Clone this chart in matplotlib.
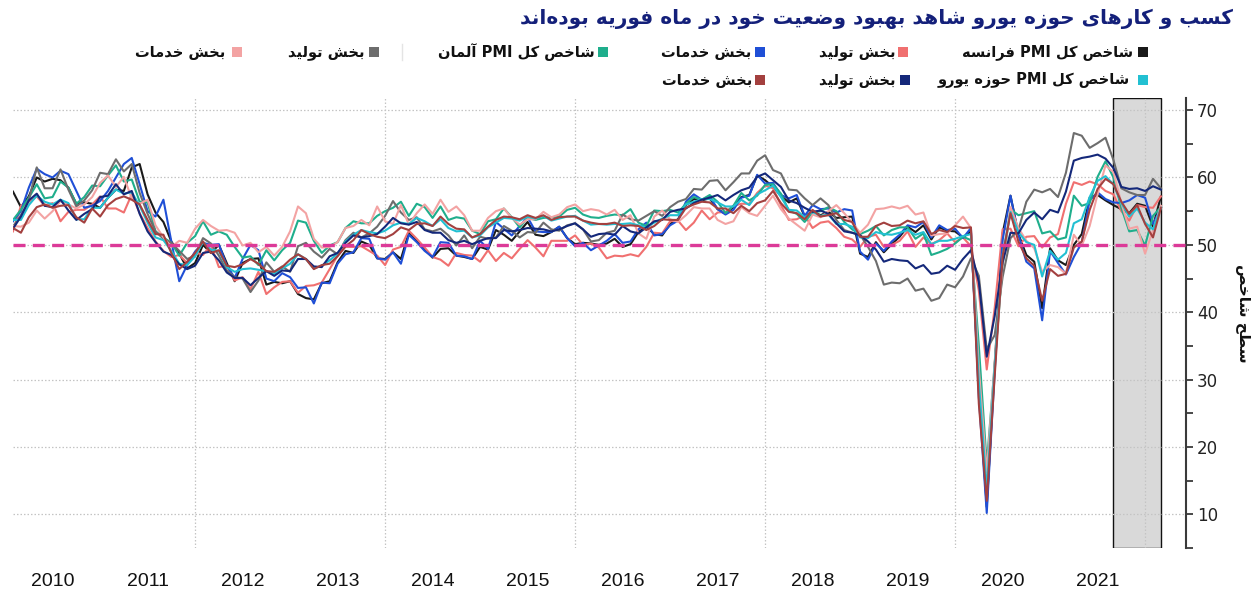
import re
import numpy as np
import matplotlib
matplotlib.use("Agg")
import matplotlib.pyplot as plt
from matplotlib.patches import Rectangle

# ---------------- data (monthly, Jan 2010 .. Feb 2022) ----------------
start_year = 2010
fr_comp = [57.9, 55.6, 57.2, 60.0, 59.4, 59.8, 59.6, 58.5, 56.1, 56.3, 56.1, 55.5,
           57.0, 58.2, 58.0, 61.5, 62.0, 57.5, 54.8, 53.4, 50.5, 48.7, 46.5, 47.3,
           50.0, 48.8, 50.0, 47.3, 44.6, 47.3, 47.9, 48.0, 44.1, 44.5, 44.3, 44.6,
           42.7, 42.1, 41.9, 44.3, 44.6, 47.4, 49.1, 48.8, 50.5, 50.0, 48.0, 47.9,
           48.9, 47.9, 51.8, 50.6, 49.3, 48.1, 49.4, 49.5, 48.4, 48.2, 47.9, 49.7,
           49.3, 52.2, 51.5, 50.6, 52.0, 53.4, 51.5, 51.3, 51.9, 52.7, 51.0, 50.1,
           50.3, 50.2, 50.0, 50.2, 50.9, 49.7, 50.1, 51.9, 52.7, 51.6, 51.4, 53.1,
           53.8, 55.9, 56.8, 56.6, 56.9, 55.3, 54.6, 55.6, 57.1, 57.4, 60.3, 59.6,
           58.6, 57.3, 56.3, 56.9, 54.2, 55.0, 54.4, 54.9, 54.0, 54.1, 54.2, 48.7,
           48.2, 50.4, 48.9, 50.1, 51.2, 52.7, 51.9, 52.9, 50.8, 52.6, 52.1, 52.0,
           51.1, 52.0, 28.9, 11.1, 32.1, 51.7, 57.3, 51.6, 48.5, 47.5, 40.6, 49.5,
           47.7, 47.0, 50.0, 51.6, 57.0, 57.4, 56.6, 55.9, 55.3, 54.7, 56.1, 55.8,
           52.7, 57.2]
fr_mfg = [52.0, 55.8, 56.4, 57.2, 55.8, 56.2, 53.5, 54.9, 55.2, 55.2, 56.0, 57.2,
          55.4, 55.4, 54.8, 57.5, 54.7, 52.5, 50.5, 49.1, 48.2, 48.5, 47.3, 48.9,
          48.5, 50.0, 46.7, 46.9, 44.7, 45.2, 43.4, 46.0, 42.7, 43.7, 44.5, 44.6,
          42.9, 43.9, 44.0, 44.4, 46.4, 48.4, 49.7, 49.7, 49.8, 49.1, 48.4, 47.0,
          49.3, 49.7, 52.1, 50.9, 49.6, 48.2, 47.8, 46.9, 48.8, 48.5, 48.4, 47.5,
          49.2, 47.6, 48.8, 48.0, 49.4, 50.7, 49.6, 48.3, 50.6, 50.6, 50.6, 51.4,
          50.0, 50.2, 49.6, 48.0, 48.4, 48.3, 48.6, 48.3, 49.7, 51.8, 51.7, 53.5,
          53.6, 52.2, 53.3, 55.1, 53.8, 54.8, 54.9, 55.8, 56.1, 56.1, 57.7, 58.8,
          58.4, 55.9, 53.7, 53.8, 54.4, 52.5, 53.3, 53.5, 52.5, 51.2, 50.8, 49.7,
          51.2, 51.5, 49.7, 50.0, 50.6, 52.0, 49.7, 51.1, 50.1, 50.7, 51.7, 50.4,
          51.1, 49.8, 43.2, 31.5, 40.6, 52.3, 52.4, 49.8, 51.2, 51.3, 49.6, 51.1,
          51.6, 56.1, 59.3, 58.9, 59.4, 59.0, 58.0, 57.5, 55.0, 53.6, 55.9, 55.6,
          55.5, 57.2]
fr_serv = [53.5, 55.0, 58.5, 61.3, 60.5, 60.0, 61.0, 60.5, 58.0, 55.5, 55.8, 56.5,
           58.0, 60.0, 62.0, 62.9, 59.0, 55.0, 54.2, 56.7, 50.5, 44.6, 47.0, 49.0,
           50.3, 50.0, 50.1, 46.9, 45.1, 47.9, 50.0, 49.2, 45.0, 44.6, 45.8, 45.2,
           43.6, 43.7, 41.3, 44.4, 44.3, 47.2, 48.6, 48.9, 51.0, 50.9, 48.0, 47.8,
           48.9, 47.2, 51.5, 50.4, 49.1, 48.2, 50.4, 50.3, 48.4, 48.3, 47.9, 50.6,
           49.4, 53.4, 52.4, 51.4, 52.8, 54.1, 52.0, 51.9, 51.9, 52.7, 51.0, 49.8,
           50.3, 49.2, 49.9, 50.6, 51.6, 50.3, 50.5, 52.3, 53.3, 51.4, 51.6, 52.9,
           53.6, 56.4, 57.5, 56.7, 57.2, 55.3, 54.5, 55.2, 57.0, 57.3, 60.4, 59.1,
           59.2, 57.4, 56.9, 57.4, 54.3, 55.9, 55.3, 55.4, 54.8, 55.3, 55.1, 49.0,
           47.8, 50.2, 49.1, 50.5, 51.5, 52.9, 52.6, 53.4, 51.1, 52.9, 52.2, 52.4,
           51.0, 52.5, 27.4, 10.2, 31.1, 50.7, 57.3, 51.5, 47.5, 46.5, 38.8, 49.1,
           47.3, 45.6, 48.2, 50.3, 56.6, 57.8, 56.8, 56.3, 56.2, 56.6, 57.4, 57.0,
           53.1, 55.5]
ge_comp = [53.7, 55.2, 57.0, 59.0, 56.9, 57.1, 59.4, 58.5, 56.1, 57.1, 58.8, 58.7,
           60.3, 61.8, 59.4, 59.7, 56.4, 56.3, 52.0, 51.1, 50.3, 48.4, 50.3, 51.3,
           53.5, 51.5, 52.0, 51.5, 49.7, 48.1, 48.3, 47.0, 49.2, 47.7, 49.2, 50.3,
           53.6, 53.3, 50.6, 48.8, 49.9, 50.4, 52.5, 53.5, 53.2, 53.2, 54.3, 55.0,
           55.5, 56.4, 54.3, 56.1, 55.6, 54.0, 55.7, 53.7, 54.1, 53.9, 52.1, 51.6,
           53.5, 53.8, 55.4, 54.1, 52.6, 54.0, 53.7, 54.0, 54.1, 54.2, 55.2, 55.5,
           54.5, 54.1, 54.0, 54.3, 54.5, 54.4, 55.3, 53.3, 52.8, 55.1, 55.0, 55.2,
           54.8, 56.1, 57.1, 56.7, 57.4, 56.4, 54.7, 55.8, 57.7, 56.6, 57.3, 58.9,
           59.0, 57.6, 55.1, 54.6, 53.4, 54.8, 55.0, 55.6, 55.0, 53.4, 52.3, 51.6,
           52.1, 52.8, 51.4, 52.2, 52.6, 52.6, 50.9, 51.7, 48.5, 48.9, 49.4, 50.2,
           51.2, 50.7, 35.0, 17.4, 32.3, 47.0, 55.3, 54.4, 54.7, 55.0, 51.7, 52.0,
           50.8, 51.1, 57.3, 55.8, 56.2, 60.1, 62.4, 60.0, 55.5, 52.0, 52.2, 49.9,
           54.3, 55.6]
ge_mfg = [52.7, 54.4, 56.6, 61.5, 58.4, 58.4, 61.2, 58.2, 55.7, 56.6, 58.1, 60.7,
          60.5, 62.7, 60.9, 62.0, 57.7, 54.6, 52.0, 50.9, 50.3, 49.1, 47.9, 48.4,
          51.0, 50.2, 48.4, 46.2, 45.2, 45.0, 43.0, 44.7, 47.4, 46.0, 46.8, 46.0,
          49.8, 50.3, 49.0, 48.1, 49.4, 48.6, 50.7, 51.8, 51.1, 51.7, 52.7, 54.3,
          56.5, 54.8, 53.7, 54.1, 52.3, 52.0, 52.4, 51.4, 49.9, 51.4, 49.5, 51.2,
          50.9, 51.1, 52.8, 52.1, 51.1, 51.9, 51.8, 53.3, 52.3, 52.1, 52.9, 53.2,
          52.3, 50.5, 50.7, 51.8, 52.1, 54.5, 53.8, 53.6, 54.3, 55.0, 54.3, 55.6,
          56.4, 56.8, 58.3, 58.2, 59.5, 59.6, 58.1, 59.3, 60.6, 60.6, 62.5, 63.3,
          61.1, 60.6, 58.2, 58.1, 56.9, 55.9, 56.9, 55.9, 53.7, 52.2, 51.8, 51.5,
          49.7, 47.6, 44.1, 44.4, 44.3, 45.0, 43.2, 43.5, 41.7, 42.1, 44.1, 43.7,
          45.3, 48.0, 45.4, 34.5, 36.6, 45.2, 51.0, 52.2, 56.4, 58.2, 57.8, 58.3,
          57.1, 60.7, 66.6, 66.2, 64.4, 65.1, 65.9, 62.6, 58.4, 57.8, 57.4, 57.4,
          59.8, 58.4]
ge_serv = [52.8, 52.7, 53.3, 55.1, 53.9, 55.0, 56.5, 56.0, 55.4, 56.0, 57.1, 59.2,
           60.3, 58.6, 60.1, 56.9, 56.1, 56.7, 52.9, 51.1, 49.7, 50.6, 50.3, 52.4,
           53.7, 52.8, 52.1, 52.2, 51.8, 49.9, 50.3, 48.9, 49.7, 48.4, 49.7, 52.0,
           55.7, 54.7, 50.9, 49.6, 49.7, 50.4, 52.5, 52.8, 53.7, 52.9, 55.7, 53.5,
           53.1, 55.9, 53.0, 54.7, 56.0, 54.6, 56.7, 54.9, 55.7, 54.4, 52.1, 52.1,
           54.0, 55.0, 55.4, 54.0, 53.0, 53.8, 53.8, 54.9, 54.1, 54.5, 55.6, 56.0,
           55.0, 55.3, 55.1, 54.5, 55.2, 53.7, 54.4, 51.7, 50.9, 54.2, 55.1, 53.8,
           53.4, 54.4, 55.6, 55.4, 55.4, 53.7, 53.1, 53.5, 55.6, 54.7, 54.3, 55.8,
           57.3, 55.3, 53.9, 53.0, 52.1, 54.5, 54.1, 55.0, 55.9, 54.7, 53.3, 51.8,
           53.0, 55.3, 55.4, 55.7, 55.4, 55.8, 54.5, 54.8, 51.4, 51.6, 51.7, 52.9,
           54.2, 52.5, 31.7, 16.2, 32.6, 47.3, 55.6, 52.5, 50.6, 49.5, 46.0, 47.0,
           46.7, 45.7, 51.5, 49.9, 52.8, 57.5, 61.8, 60.8, 56.2, 52.4, 52.7, 48.7,
           52.2, 55.8]
ez_comp = [53.7, 53.7, 55.9, 57.3, 56.4, 56.0, 56.7, 56.2, 53.8, 53.8, 55.5, 55.5,
           57.0, 58.2, 57.6, 57.8, 55.8, 53.3, 51.1, 50.7, 49.1, 47.2, 47.0, 48.3,
           50.4, 49.3, 49.1, 46.7, 46.0, 46.4, 46.5, 46.3, 46.1, 45.7, 46.5, 47.2,
           48.6, 47.9, 46.5, 46.9, 47.7, 48.7, 50.5, 51.5, 52.2, 51.9, 51.7, 52.1,
           52.9, 53.3, 53.1, 54.0, 53.5, 52.8, 53.8, 52.5, 52.0, 52.1, 51.1, 51.4,
           52.6, 53.3, 54.0, 53.9, 53.6, 54.2, 53.9, 54.3, 53.6, 53.9, 54.2, 54.3,
           53.6, 53.0, 53.1, 53.0, 53.1, 53.1, 53.2, 52.9, 52.6, 53.3, 53.9, 54.4,
           54.4, 56.0, 56.4, 56.8, 56.8, 56.3, 55.7, 55.7, 56.7, 55.9, 57.5, 58.1,
           58.8, 57.1, 55.2, 55.1, 54.1, 54.9, 54.3, 54.5, 53.1, 53.1, 52.7, 51.1,
           51.0, 51.9, 51.6, 51.5, 51.8, 52.2, 51.5, 51.9, 50.1, 50.6, 50.6, 50.9,
           51.3, 51.6, 29.7, 13.6, 31.9, 48.5, 54.9, 51.9, 50.4, 50.0, 45.3, 49.1,
           47.8, 48.8, 53.2, 53.8, 57.1, 59.5, 60.2, 59.0, 56.2, 54.2, 55.4, 53.3,
           52.3, 55.5]
ez_mfg = [52.4, 54.2, 56.6, 57.6, 55.8, 55.6, 56.7, 55.1, 53.7, 54.6, 55.3, 57.1,
          57.3, 59.0, 57.5, 58.0, 54.6, 52.0, 50.4, 49.0, 48.5, 47.1, 46.4, 46.9,
          48.8, 49.0, 47.7, 45.9, 45.1, 45.1, 44.0, 45.1, 46.1, 45.4, 46.2, 46.1,
          47.9, 47.9, 46.8, 46.7, 48.3, 48.8, 50.3, 51.4, 51.1, 51.3, 51.6, 52.7,
          54.0, 53.2, 53.0, 53.4, 52.2, 51.8, 51.8, 50.7, 50.3, 50.6, 50.1, 50.6,
          51.0, 51.0, 52.2, 52.0, 52.2, 52.5, 52.4, 52.3, 52.0, 52.3, 52.8, 53.2,
          52.3, 51.2, 51.6, 51.7, 51.5, 52.8, 52.0, 51.7, 52.6, 53.5, 53.7, 54.9,
          55.2, 55.4, 56.2, 56.7, 57.0, 57.4, 56.6, 57.4, 58.1, 58.5, 60.1, 60.6,
          59.6, 58.6, 56.6, 56.2, 55.5, 54.9, 55.1, 54.6, 53.2, 52.0, 51.8, 51.4,
          50.5, 49.3, 47.5, 47.9, 47.7, 47.6, 46.5, 47.0, 45.7, 45.9, 46.9, 46.3,
          47.9, 49.2, 44.5, 33.4, 39.4, 47.4, 51.8, 51.7, 53.7, 54.8, 53.8, 55.2,
          54.8, 57.9, 62.5, 62.9, 63.1, 63.4, 62.8, 61.4, 58.6, 58.3, 58.4, 58.0,
          58.7, 58.2]
ez_serv = [52.5, 51.8, 54.1, 55.6, 56.0, 55.5, 55.8, 55.9, 54.1, 53.3, 55.4, 54.2,
           55.9, 56.8, 57.2, 56.7, 56.0, 53.7, 51.6, 51.5, 48.8, 46.4, 47.5, 48.8,
           50.5, 48.8, 49.2, 46.9, 46.7, 47.1, 47.9, 47.2, 46.1, 46.0, 46.7, 47.8,
           48.6, 47.9, 46.4, 47.0, 47.2, 48.3, 49.8, 50.7, 52.2, 51.6, 51.2, 51.0,
           51.6, 52.6, 52.2, 53.1, 53.2, 52.8, 54.2, 53.1, 52.4, 52.3, 51.1, 51.6,
           52.7, 53.7, 54.2, 54.1, 53.8, 54.4, 54.0, 54.4, 53.7, 54.1, 54.2, 54.2,
           53.6, 53.3, 53.1, 53.1, 53.3, 52.8, 52.9, 52.8, 52.2, 52.8, 53.8, 53.7,
           53.7, 55.5, 56.0, 56.4, 56.3, 55.4, 55.4, 54.7, 55.8, 55.0, 56.2, 56.6,
           58.0, 56.2, 54.9, 54.7, 53.8, 55.2, 54.2, 54.4, 54.7, 53.7, 53.4, 51.2,
           51.2, 52.8, 53.3, 52.8, 52.9, 53.6, 53.2, 53.5, 51.6, 52.2, 51.9, 52.8,
           52.5, 52.6, 26.4, 12.0, 30.5, 48.3, 54.7, 50.5, 48.0, 46.9, 41.7, 46.4,
           45.4, 45.7, 49.6, 50.5, 55.2, 58.3, 59.8, 59.0, 56.4, 54.6, 55.9, 53.1,
           51.1, 55.5]

year_labels = [str(y) for y in range(2010, 2022)]
y_ticks = [10, 20, 30, 40, 50, 60, 70]
threshold = 50
shade_start, shade_end = 2021 + 8 / 12, 2022 + 2 / 12

title_fa = "کسب و کارهای حوزه یورو شاهد بهبود وضعیت خود در ماه فوریه بوده\u200cاند"
ylabel_fa = "سطح شاخص"
series_labels = ["شاخص کل PMI فرانسه", "بخش تولید", "بخش خدمات",
                 "شاخص کل PMI آلمان", "بخش تولید", "بخش خدمات",
                 "شاخص کل PMI حوزه یورو", "بخش تولید", "بخش خدمات"]
series_data = [fr_comp, fr_mfg, fr_serv, ge_comp, ge_mfg, ge_serv, ez_comp, ez_mfg, ez_serv]
colors = ["#1a1a1a", "#f07070", "#1f4fd6", "#1fae8c", "#6d6d6d", "#f3a3a3",
          "#22c0d2", "#14287a", "#a3403f"]

# ---------------- simple Persian shaping + RTL ordering ----------------
FORMS = {
    '\u0622': ('\uFE81', '\uFE82'), '\u0627': ('\uFE8D', '\uFE8E'),
    '\u0628': ('\uFE8F', '\uFE90', '\uFE91', '\uFE92'), '\u067E': ('\uFB56', '\uFB57', '\uFB58', '\uFB59'),
    '\u062A': ('\uFE95', '\uFE96', '\uFE97', '\uFE98'), '\u062C': ('\uFE9D', '\uFE9E', '\uFE9F', '\uFEA0'),
    '\u0686': ('\uFB7A', '\uFB7B', '\uFB7C', '\uFB7D'), '\u062D': ('\uFEA1', '\uFEA2', '\uFEA3', '\uFEA4'),
    '\u062E': ('\uFEA5', '\uFEA6', '\uFEA7', '\uFEA8'), '\u062F': ('\uFEA9', '\uFEAA'),
    '\u0630': ('\uFEAB', '\uFEAC'), '\u0631': ('\uFEAD', '\uFEAE'), '\u0632': ('\uFEAF', '\uFEB0'),
    '\u0698': ('\uFB8A', '\uFB8B'), '\u0633': ('\uFEB1', '\uFEB2', '\uFEB3', '\uFEB4'),
    '\u0634': ('\uFEB5', '\uFEB6', '\uFEB7', '\uFEB8'), '\u0635': ('\uFEB9', '\uFEBA', '\uFEBB', '\uFEBC'),
    '\u0636': ('\uFEBD', '\uFEBE', '\uFEBF', '\uFEC0'), '\u0637': ('\uFEC1', '\uFEC2', '\uFEC3', '\uFEC4'),
    '\u0638': ('\uFEC5', '\uFEC6', '\uFEC7', '\uFEC8'), '\u0639': ('\uFEC9', '\uFECA', '\uFECB', '\uFECC'),
    '\u063A': ('\uFECD', '\uFECE', '\uFECF', '\uFED0'), '\u0641': ('\uFED1', '\uFED2', '\uFED3', '\uFED4'),
    '\u0642': ('\uFED5', '\uFED6', '\uFED7', '\uFED8'), '\u06A9': ('\uFB8E', '\uFB8F', '\uFB90', '\uFB91'),
    '\u06AF': ('\uFB92', '\uFB93', '\uFB94', '\uFB95'), '\u0644': ('\uFEDD', '\uFEDE', '\uFEDF', '\uFEE0'),
    '\u0645': ('\uFEE1', '\uFEE2', '\uFEE3', '\uFEE4'), '\u0646': ('\uFEE5', '\uFEE6', '\uFEE7', '\uFEE8'),
    '\u0647': ('\uFEE9', '\uFEEA', '\uFEEB', '\uFEEC'), '\u0648': ('\uFEED', '\uFEEE'),
    '\u06CC': ('\uFBFC', '\uFBFD', '\uFBFE', '\uFBFF'),
}


def shape(s):
    out = []
    n = len(s)
    for i, c in enumerate(s):
        if c not in FORMS:
            if c != '\u200c':
                out.append(c)
            continue
        f = FORMS[c]
        prev = s[i - 1] if i > 0 else ''
        nxt = s[i + 1] if i + 1 < n else ''
        jp = prev in FORMS and len(FORMS[prev]) == 4
        jn = len(f) == 4 and nxt in FORMS
        if jp and jn:
            out.append(f[3])
        elif jn:
            out.append(f[2])
        elif jp:
            out.append(f[1])
        else:
            out.append(f[0])
    return ''.join(out)


def fa(s):
    shaped = shape(s)
    runs = re.findall(r'[A-Za-z0-9]+|[^A-Za-z0-9]+', shaped)
    vis = []
    for r in reversed(runs):
        vis.append(r if re.match(r'[A-Za-z0-9]', r) else r[::-1])
    return ''.join(vis)


# ---------------- figure ----------------
W, H = 1258, 594
fig = plt.figure(figsize=(W / 100, H / 100), dpi=100)
FA_FONT = ['DejaVu Sans']


def fx(px):
    return px / W


def fy(py):
    return 1 - py / H


ax_l, ax_r, ax_t, ax_b = 13, 1186, 98, 548
ax = fig.add_axes([fx(ax_l), fy(ax_b), fx(ax_r - ax_l), (ax_b - ax_t) / H])

n = len(fr_comp)
x = start_year + (np.arange(n) + 1) / 12.0
px_per_year = 95.0
x0 = x[0]
ax.set_xlim(x0, x0 + (ax_r - ax_l) / px_per_year)
ax.set_ylim(5, 71.8)

ax.axvspan(shade_start, shade_end, facecolor="#d9d9d9", edgecolor="#111111", lw=1.0, zorder=0.3)

for vals, col in zip(series_data, colors):
    ax.plot(x, vals, color=col, lw=1.5, zorder=2, solid_joinstyle='round')

ax.axhline(threshold, color="#dc3a98", lw=2.4, dashes=(3.6, 2.2), zorder=3)

# axes styling
for s in ["left", "top", "bottom"]:
    ax.spines[s].set_visible(False)
ax.spines["right"].set_color("#3a3a3a")
ax.spines["right"].set_linewidth(1.5)
ax.yaxis.tick_right()
ax.set_yticks(y_ticks)
ax.set_yticks(np.arange(5, 71, 5), minor=True)
ax.tick_params(axis='y', which='both', direction='out', length=5, width=1.3, color="#3a3a3a",
               labelsize=12, labelcolor="#222222", pad=3)
ax.set_xticks([int(l) + 0.5 for l in year_labels])
ax.set_xticklabels(year_labels, fontfamily='Liberation Sans', fontsize=14, color="#111111")
ax.set_xticks(np.arange(2012, 2023, 2), minor=True)
ax.tick_params(axis='x', which='both', length=0, pad=18)
ax.set_axisbelow(True)
ax.grid(axis='y', which='major', color="#c4c4c4", ls=(0, (1.2, 1.6)), lw=0.9)
ax.grid(axis='x', which='minor', color="#c4c4c4", ls=(0, (1.2, 1.6)), lw=0.9)

# title
fig.text(fx(1233), fy(19), fa(title_fa), ha='right', va='center', fontsize=14.5,
         fontweight='bold', color="#14207a", family=FA_FONT)

# y label
fig.text(fx(1244), fy(313), fa(ylabel_fa), ha='center', va='center', rotation=270,
         fontsize=11, fontweight='bold', color="#111111", family=FA_FONT)

# legend (RTL)
leg_pos = [(1143, 1133, 52), (903, 896, 52), (760, 751, 52),
           (603, 595, 52), (374, 364, 52), (237, 225, 52),
           (1143, 1130, 80), (905, 896, 80), (760, 752, 80)]
sq = 10
for (mx, tx, yy), lab, col in zip(leg_pos, series_labels, colors):
    fig.patches.append(Rectangle((fx(mx - sq / 2), fy(yy + sq / 2)), sq / W, sq / H,
                                 transform=fig.transFigure, facecolor=col, edgecolor='none'))
    fig.text(fx(tx), fy(yy), fa(lab), ha='right', va='center', fontsize=10.5,
             fontweight='bold', color="#111111", family=FA_FONT)

# faint legend separator
fig.add_artist(plt.Line2D([fx(402), fx(402)], [fy(44), fy(60)], color="#e4e4e4", lw=1,
                          transform=fig.transFigure))

fig.savefig("out.png", dpi=100)
